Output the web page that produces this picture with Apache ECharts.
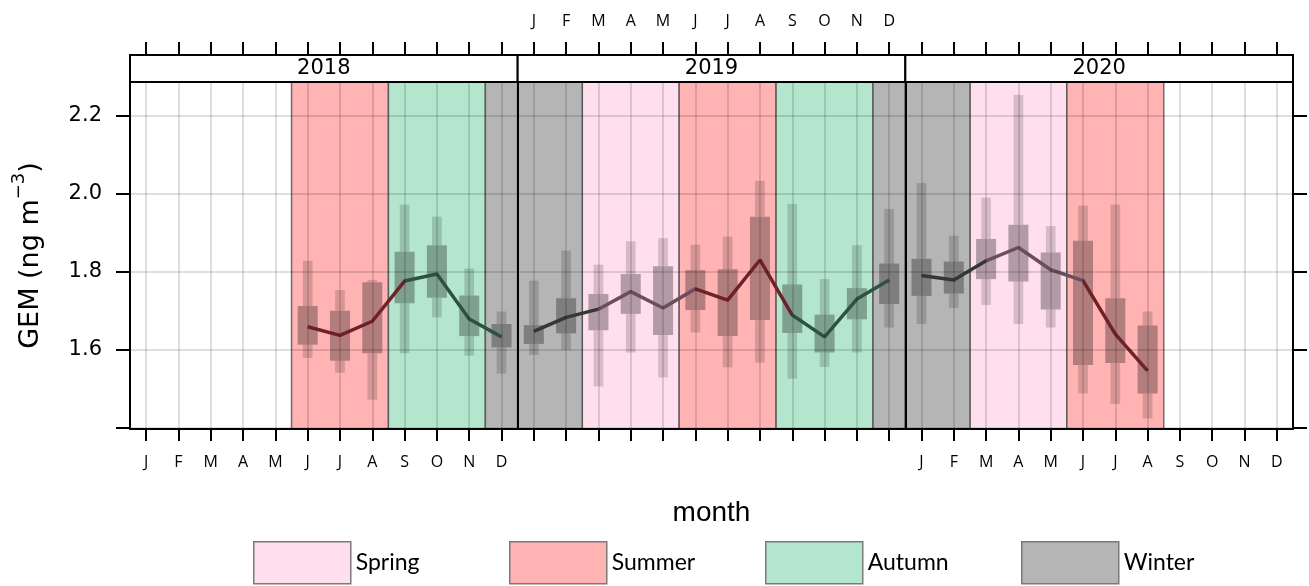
<!DOCTYPE html>
<html>
<head>
<meta charset="utf-8">
<script src="https://cdn.jsdelivr.net/npm/echarts@6/dist/echarts.min.js"></script>
<style>
  html, body { margin: 0; padding: 0; background: #fff; }
  #chart { width: 1309px; height: 586px; }
</style>
</head>
<body>
<div id="chart"></div>
<script>
const months = ['J', 'F', 'M', 'A', 'M', 'J', 'J', 'A', 'S', 'O', 'N', 'D'];
const years = ['2018', '2019', '2020'];
const seasons = ['Spring', 'Summer', 'Autumn', 'Winter'];
const yTicks = [1.4, 1.6, 1.8, 2.0, 2.2];
const yLabels = [1.6, 1.8, 2.0, 2.2];

// season bands: [first month index, last month index, season]
const bands2018 = [[5, 7, 'Summer'], [8, 10, 'Autumn'], [11, 11, 'Winter']];
const bands2019 = [[0, 1, 'Winter'], [2, 4, 'Spring'], [5, 7, 'Summer'], [8, 10, 'Autumn'], [11, 11, 'Winter']];
const bands2020 = [[0, 1, 'Winter'], [2, 4, 'Spring'], [5, 7, 'Summer']];

// monthly GEM statistics (ng m-3)
const p05_2018 = [null, null, null, null, null, 1.579, 1.541, 1.472, 1.591, 1.683, 1.585, 1.539];
const p25_2018 = [null, null, null, null, null, 1.613, 1.572, 1.591, 1.719, 1.733, 1.635, 1.606];
const mean2018 = [null, null, null, null, null, 1.659, 1.637, 1.673, 1.776, 1.794, 1.679, 1.633];
const p75_2018 = [null, null, null, null, null, 1.712, 1.700, 1.773, 1.851, 1.868, 1.739, 1.666];
const p95_2018 = [null, null, null, null, null, 1.828, 1.753, 1.779, 1.972, 1.941, 1.808, 1.698];

const p05_2019 = [1.587, 1.600, 1.506, 1.593, 1.529, 1.644, 1.555, 1.567, 1.526, 1.556, 1.593, 1.657];
const p25_2019 = [1.615, 1.642, 1.650, 1.692, 1.638, 1.702, 1.635, 1.676, 1.643, 1.593, 1.678, 1.717];
const mean2019 = [1.647, 1.683, 1.704, 1.749, 1.707, 1.756, 1.727, 1.830, 1.689, 1.633, 1.730, 1.779];
const p75_2019 = [1.663, 1.732, 1.743, 1.794, 1.814, 1.804, 1.806, 1.941, 1.767, 1.690, 1.758, 1.821];
const p95_2019 = [1.777, 1.854, 1.818, 1.878, 1.886, 1.869, 1.890, 2.033, 1.974, 1.781, 1.868, 1.961];

const p05_2020 = [1.666, 1.707, 1.715, 1.666, 1.657, 1.488, 1.461, 1.424, null, null, null, null];
const p25_2020 = [1.738, 1.744, 1.781, 1.775, 1.703, 1.561, 1.566, 1.488, null, null, null, null];
const mean2020 = [1.790, 1.779, 1.828, 1.862, 1.805, 1.777, 1.640, 1.546, null, null, null, null];
const p75_2020 = [1.833, 1.826, 1.884, 1.920, 1.849, 1.879, 1.732, 1.662, null, null, null, null];
const p95_2020 = [2.027, 1.892, 1.990, 2.253, 1.917, 1.969, 1.972, 1.698, null, null, null, null];

const panels = [
  { year: years[0], bands: bands2018, p05: p05_2018, p25: p25_2018, mean: mean2018, p75: p75_2018, p95: p95_2018 },
  { year: years[1], bands: bands2019, p05: p05_2019, p25: p25_2019, mean: mean2019, p75: p75_2019, p95: p95_2019 },
  { year: years[2], bands: bands2020, p05: p05_2020, p25: p25_2020, mean: mean2020, p75: p75_2020, p95: p95_2020 }
];

const fillColor = { Spring: '#ffdeee', Summer: '#ffb3b3', Autumn: '#b3e6cd', Winter: '#b5b5b5' };
const lineColor = { Spring: '#6b4d5d', Summer: '#6e2228', Autumn: '#2e5240', Winter: '#363636' };

const plotLeft = 130, plotRight = 1293, plotTop = 82, plotBottom = 429, stripTop = 55;
const panelW = (plotRight - plotLeft) / 3;
const yMin = 1.397, yMax = 2.286;
const black = { color: '#000', width: 2 };
const gridLine = { color: 'rgba(0,0,0,0.13)', width: 2 };
const monthFont = { fontFamily: 'Open Sans', fontSize: 16, color: '#000' };

function renderBand(params, api) {
  const bw = api.size([1, 0])[0];
  const x0 = api.coord([api.value(0), yMin])[0] - bw / 2;
  const x1 = api.coord([api.value(1), yMin])[0] + bw / 2;
  const cs = params.coordSys;
  return {
    type: 'rect',
    shape: { x: x0, y: cs.y, width: x1 - x0, height: cs.height },
    style: { fill: api.visual('color'), stroke: 'rgba(70,70,70,0.75)', lineWidth: 1.5 }
  };
}

function renderBox(params, api) {
  const i = api.value(0);
  const bw = api.size([1, 0])[0];
  const x = api.coord([i, yMin])[0];
  const py = v => api.coord([i, v])[1];
  const lo = py(api.value(1)), q1 = py(api.value(2)), q3 = py(api.value(3)), hi = py(api.value(4));
  const tw = bw * 0.3, ww = bw * 0.62;
  const thin = { fill: 'rgba(0,0,0,0.16)' };
  return {
    type: 'group',
    children: [
      { type: 'rect', shape: { x: x - tw / 2, y: q1, width: tw, height: lo - q1 }, style: thin },
      { type: 'rect', shape: { x: x - tw / 2, y: hi, width: tw, height: q3 - hi }, style: thin },
      { type: 'rect', shape: { x: x - ww / 2, y: q3, width: ww, height: q1 - q3 }, style: { fill: 'rgba(0,0,0,0.3)' } }
    ]
  };
}

const grid = [], xAxis = [], yAxis = [], series = [], visualMap = [];

panels.forEach((p, k) => {
  const left = plotLeft + k * panelW;
  // main plotting grid (k) and strip grid (3 + k)
  grid[k] = { left: left, width: panelW, top: plotTop, height: plotBottom - plotTop, outerBoundsMode: 'none' };
  grid[3 + k] = {
    left: left, width: panelW, top: stripTop, height: plotTop - stripTop, outerBoundsMode: 'none',
    show: true, backgroundColor: '#fff', borderColor: '#000', borderWidth: 2
  };

  // x axes: 4k bottom, 4k+1 plot top, 4k+2 strip top (month ticks), 4k+3 strip year label
  xAxis[4 * k] = {
    type: 'category', gridIndex: k, position: 'bottom', data: months, z: 5,
    axisLine: { onZero: false, lineStyle: black },
    axisTick: { show: true, alignWithLabel: true, interval: 0, length: 12, lineStyle: black },
    axisLabel: Object.assign({ show: k !== 1, interval: 0, margin: 25 }, monthFont),
    splitLine: { show: true, alignWithLabel: true, interval: 0, lineStyle: gridLine },
    name: k === 1 ? 'month' : '', nameLocation: 'middle', nameGap: 70,
    nameTextStyle: { fontFamily: 'Liberation Sans', fontSize: 28, color: '#000' }
  };
  xAxis[4 * k + 1] = {
    type: 'category', gridIndex: k, position: 'top', data: months, z: 5,
    axisLine: { onZero: false, lineStyle: black },
    axisTick: { show: false }, axisLabel: { show: false }, splitLine: { show: false }
  };
  xAxis[4 * k + 2] = {
    type: 'category', gridIndex: 3 + k, position: 'top', data: months, z: 5,
    axisLine: { onZero: false, lineStyle: black },
    axisTick: { show: true, alignWithLabel: true, interval: 0, length: 13, lineStyle: black },
    axisLabel: Object.assign({ show: k === 1, interval: 0, margin: 26 }, monthFont),
    splitLine: { show: false }
  };
  xAxis[4 * k + 3] = {
    type: 'category', gridIndex: 3 + k, position: 'bottom', data: [p.year],
    axisLine: { show: false, onZero: false }, axisTick: { show: false }, splitLine: { show: false },
    axisLabel: { inside: true, margin: 3, fontFamily: 'DejaVu Sans', fontSize: 21, color: '#000' }
  };

  // y axes: 2k left, 2k+1 right, 6+k hidden strip axis
  yAxis[2 * k] = {
    type: 'value', gridIndex: k, position: 'left', min: yMin, max: yMax, z: 5,
    axisLine: { show: true, onZero: false, lineStyle: black },
    axisTick: { show: k === 0, customValues: yTicks, length: 14, lineStyle: black },
    axisLabel: {
      show: k === 0, customValues: yLabels, margin: 28, formatter: v => v.toFixed(1),
      fontFamily: 'DejaVu Sans', fontSize: 21, color: '#000'
    },
    splitLine: { show: true, customValues: yTicks, lineStyle: gridLine },
    name: k === 0 ? '{a|GEM (ng m}{s|\u22123}{a|)}' : '',
    nameLocation: 'middle', nameGap: 86, nameRotate: 90,
    nameTextStyle: {
      rich: {
        a: { fontFamily: 'DejaVu Sans', fontSize: 27, color: '#000', lineHeight: 34, verticalAlign: 'bottom' },
        s: { fontFamily: 'DejaVu Sans', fontSize: 18, color: '#000', lineHeight: 18, verticalAlign: 'top' }
      }
    }
  };
  yAxis[2 * k + 1] = {
    type: 'value', gridIndex: k, position: 'right', min: yMin, max: yMax, z: 5,
    axisLine: { show: true, onZero: false, lineStyle: black },
    axisTick: { show: k === 2, customValues: yTicks, length: 14, lineStyle: black },
    axisLabel: { show: false }, splitLine: { show: false }
  };
  yAxis[6 + k] = { type: 'value', gridIndex: 3 + k, min: 0, max: 1, show: false };

  // season background bands
  seasons.forEach(s => {
    const spans = p.bands.filter(b => b[2] === s).map(b => [b[0], b[1]]);
    if (!spans.length) return;
    series.push({
      name: s, type: 'custom', xAxisIndex: 4 * k, yAxisIndex: 2 * k, z: 1, silent: true,
      itemStyle: { color: fillColor[s] }, encode: { x: [0, 1] },
      renderItem: renderBand, data: spans
    });
  });

  // percentile bars
  const boxes = [];
  months.forEach((m, i) => {
    if (p.mean[i] == null) return;
    boxes.push([i, p.p05[i], p.p25[i], p.p75[i], p.p95[i]]);
  });
  series.push({
    type: 'custom', xAxisIndex: 4 * k, yAxisIndex: 2 * k, z: 2, silent: true,
    encode: { x: 0, y: [1, 2, 3, 4] }, renderItem: renderBox, data: boxes
  });

  // monthly mean line
  series.push({
    type: 'line', xAxisIndex: 4 * k, yAxisIndex: 2 * k, z: 3, silent: true,
    symbol: 'none', lineStyle: { width: 3.5 }, data: p.mean
  });
  visualMap.push({
    type: 'piecewise', show: false, dimension: 0, seriesIndex: series.length - 1,
    pieces: p.bands.map(b => ({ gte: b[0] - 0.5, lt: b[1] + 0.5, color: lineColor[b[2]] })),
    outOfRange: { color: '#363636' }
  });
});

// one legend per season so the four keys sit at fixed, even spacing
const legendLeft = [253, 509, 765, 1021];
const legend = seasons.map((s, i) => ({
  data: [s], left: legendLeft[i], top: 541, padding: 0, icon: 'rect', selectedMode: false,
  itemWidth: 97, itemHeight: 42, itemGap: 0,
  itemStyle: { borderColor: '#7a7a7a', borderWidth: 1.5 },
  textStyle: { fontFamily: 'Lato', fontSize: 23, color: '#000' }
}));

const option = {
  animation: false,
  backgroundColor: '#fff',
  grid: grid,
  xAxis: xAxis,
  yAxis: yAxis,
  visualMap: visualMap,
  legend: legend,
  series: series
};

const chart = echarts.init(document.getElementById('chart'));
chart.setOption(option);
</script>
</body>
</html>
